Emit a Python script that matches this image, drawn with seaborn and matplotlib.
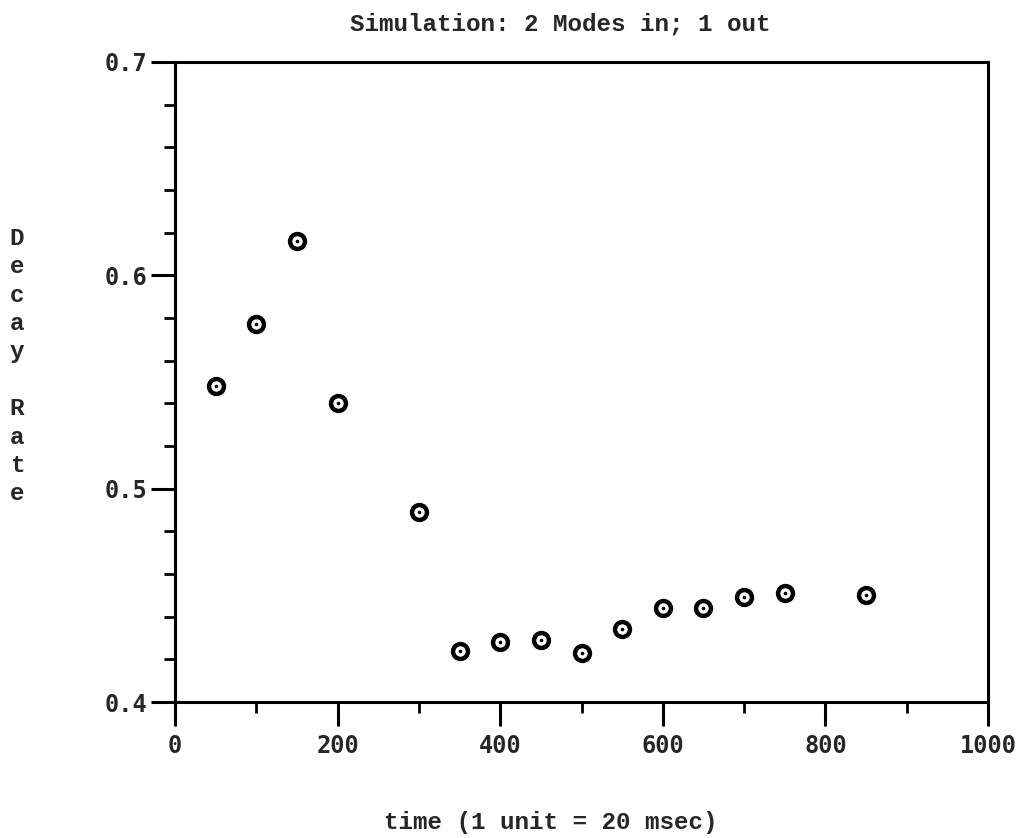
import matplotlib
matplotlib.use("Agg")
import matplotlib.pyplot as plt
import seaborn as sns
import pandas as pd
from matplotlib.ticker import MultipleLocator, FormatStrFormatter

# values
time_units = [50, 100, 150, 200, 300, 350, 400, 450, 500, 550, 600, 650, 700, 750, 850]
decay_rate = [0.548, 0.577, 0.616, 0.540, 0.489, 0.424, 0.428, 0.429, 0.423,
              0.434, 0.444, 0.444, 0.449, 0.451, 0.450]
x_ticks = [0, 200, 400, 600, 800, 1000]
y_ticks = [0.4, 0.5, 0.6, 0.7]

df = pd.DataFrame({"time": time_units, "rate": decay_rate})

sns.set_style("ticks")
plt.rcParams["font.family"] = ["Liberation Mono", "DejaVu Sans Mono"]
plt.rcParams["font.weight"] = "bold"

fig = plt.figure(figsize=(10.2, 8.38), dpi=100)
ax = fig.add_axes([175 / 1020, 1 - 702 / 838, 813 / 1020, 640 / 838])

# open circle with a dot in the middle
sns.scatterplot(data=df, x="time", y="rate", ax=ax, marker="o", s=115,
                facecolor="white", edgecolor="black", linewidth=3.2, zorder=3)
sns.scatterplot(data=df, x="time", y="rate", ax=ax, marker="o", s=7,
                color="black", linewidth=0, zorder=4)

ax.set_xlim(0, 1000)
ax.set_ylim(0.4, 0.7)
ax.set_xticks(x_ticks)
ax.set_yticks(y_ticks)
ax.xaxis.set_minor_locator(MultipleLocator(100))
ax.yaxis.set_minor_locator(MultipleLocator(0.02))
ax.yaxis.set_major_formatter(FormatStrFormatter("%.1f"))

for side in ["top", "right", "bottom", "left"]:
    ax.spines[side].set_linewidth(2.2)
    ax.spines[side].set_color("black")

ax.tick_params(which="major", direction="out", length=17, width=2.2, color="black")
ax.tick_params(which="minor", direction="out", length=8, width=2.0, color="black")
ax.tick_params(axis="x", which="major", pad=6)
ax.tick_params(axis="y", which="major", pad=3)
for lab in ax.get_xticklabels() + ax.get_yticklabels():
    lab.set_fontfamily("DejaVu Sans Mono")
    lab.set_fontweight("bold")
    lab.set_fontsize(17)

ax.set_xlabel("")
ax.set_ylabel("")

fig.text(560 / 1020, 1 - 24 / 838, "Simulation: 2 Modes in; 1 out",
         ha="center", va="center", fontsize=17.5, fontweight="bold")
fig.text(551 / 1020, 1 - 822 / 838, "time (1 unit = 20 msec)",
         ha="center", va="center", fontsize=17.5, fontweight="bold")
fig.text(17 / 1020, 1 - 366 / 838, "D\ne\nc\na\ny\n\nR\na\nt\ne",
         ha="center", va="center", fontsize=17.5, fontweight="bold", linespacing=1.3)

fig.savefig("out.png", dpi=100, facecolor="white")
